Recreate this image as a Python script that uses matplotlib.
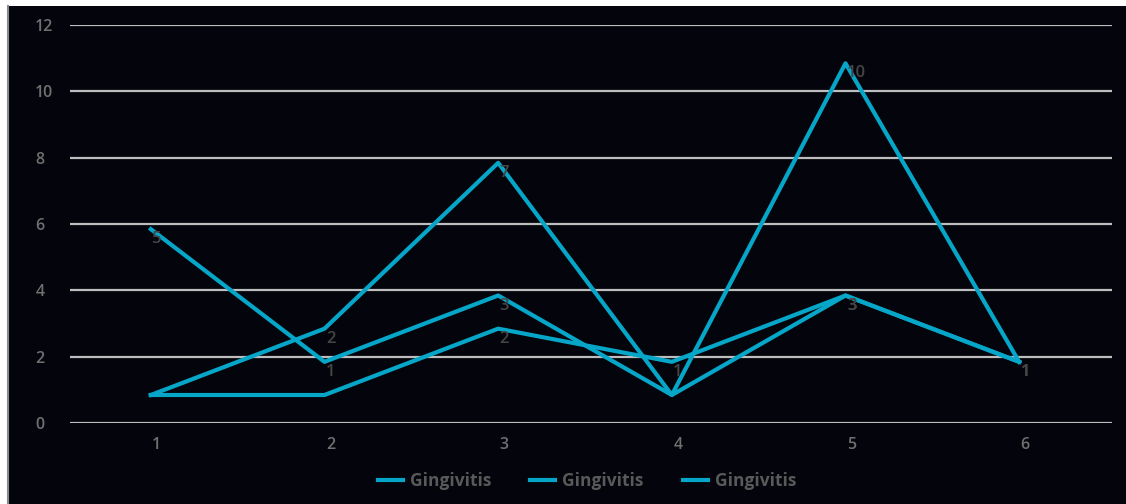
import matplotlib
matplotlib.use("Agg")
import matplotlib.pyplot as plt
from matplotlib.patches import Rectangle
from matplotlib.lines import Line2D
from matplotlib.transforms import ScaledTranslation

plt.rcParams['font.family'] = ['Open Sans', 'DejaVu Sans']

# cases per visit, three series (all labelled the same in the source sheet)
visits = [1, 2, 3, 4, 5, 6]
series_a = [5, 1, 3, 0, 3, 1]
series_b = [0, 2, 7, 0, 10, 1]
series_c = [0, 0, 2, 1, 3, 1]
series_names = ["Gingivitis", "Gingivitis", "Gingivitis"]
y_ticks = [0, 2, 4, 6, 8, 10, 12]

line_color = "#06a6c8"
bg = "#03040c"

fig = plt.figure(figsize=(11.26, 5.04), dpi=100, facecolor="white")

# dark panel with a thin grey rule on the left
fig.add_artist(Rectangle((7 / 1126, 0), 1 - 7 / 1126, 498 / 504,
                         transform=fig.transFigure, facecolor=bg,
                         edgecolor="none", zorder=0))
fig.add_artist(Line2D([8 / 1126, 8 / 1126], [0, 498 / 504],
                      transform=fig.transFigure, color="#8a8a8a", lw=1.5))

ax = fig.add_axes([70 / 1126, 81 / 504, 1042 / 1126, 398 / 504])
ax.set_facecolor(bg)
for s in ax.spines.values():
    s.set_visible(False)

ax.set_xlim(0.5, 6.5)
ax.set_ylim(0, 12)
ax.set_yticks(y_ticks)
ax.set_xticks(visits)
ax.grid(axis="y", color="#bdbdbd", lw=1.6)
ax.set_axisbelow(True)
ax.tick_params(length=0, labelsize=11.5, labelcolor="#707070")
ax.tick_params(axis="y", pad=25)
ax.tick_params(axis="x", pad=10)
for lab in ax.get_xticklabels() + ax.get_yticklabels():
    lab.set_fontweight("semibold")
for lab in ax.get_yticklabels():
    lab.set_ha("left")

# the plotted layer sits a little up and left of the gridlines
shift = ax.transData + ScaledTranslation(-6 / 100, 28 / 100, fig.dpi_scale_trans)

handles = []
for vals, name in zip([series_a, series_b, series_c], series_names):
    h, = ax.plot(visits, vals, color=line_color, lw=3, transform=shift,
                 label=name, clip_on=False, zorder=3)
    handles.append(h)
    for x, v in zip(visits, vals):
        if v == 0:
            continue
        ax.annotate(str(v), (x, v), xycoords=shift, xytext=(1, -1.5),
                    textcoords="offset points", ha="left", va="top",
                    fontsize=12, fontweight="semibold", color="#454545",
                    zorder=4)

fig.legend(handles=handles, loc="center", bbox_to_anchor=(587 / 1126, 23 / 504),
           ncol=3, frameon=False, handlelength=1.45, handletextpad=0.4,
           columnspacing=2.25, prop={"size": 12.5, "weight": "bold"},
           labelcolor="#595959")

fig.savefig("out.png", dpi=100, facecolor=fig.get_facecolor())
